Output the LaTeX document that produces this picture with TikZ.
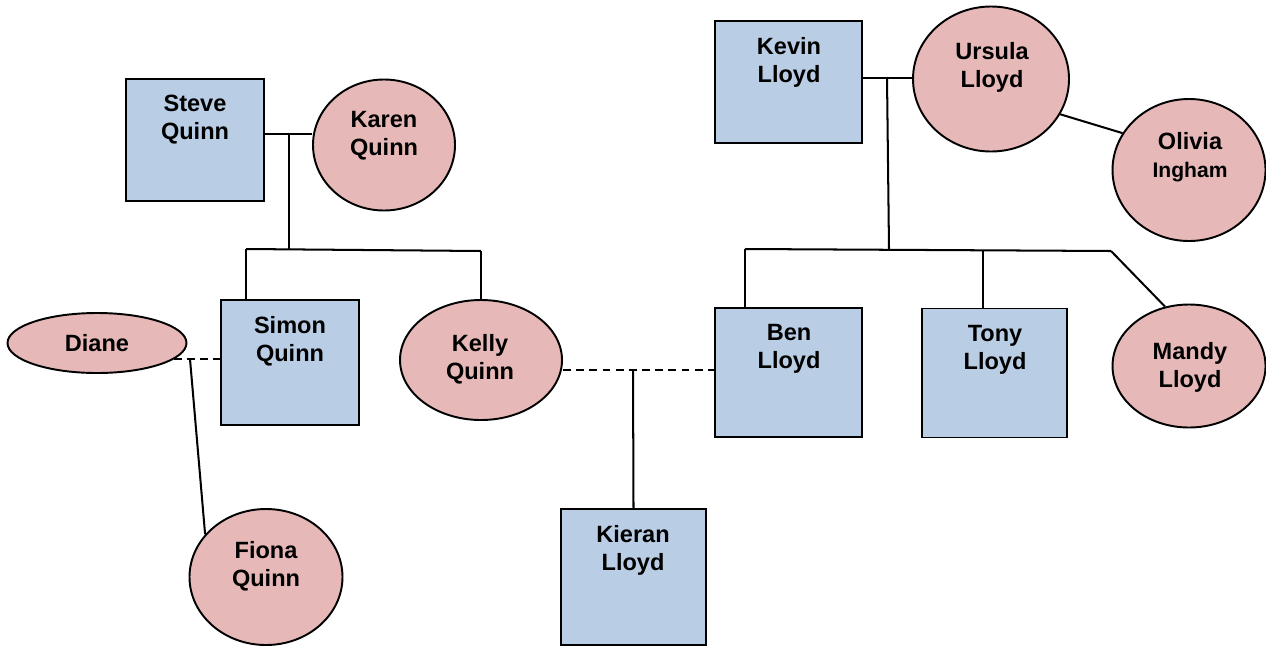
\documentclass[tikz,border=0pt]{standalone}
\usepackage{fontspec}
\setmainfont{Liberation Sans}
\usetikzlibrary{shapes.geometric}
\definecolor{mblue}{HTML}{B9CDE5}
\definecolor{fpink}{HTML}{E6B9B8}
\begin{document}
\begin{tikzpicture}[x=0.02cm,y=-0.02cm,
  male/.style={draw, fill=mblue, line width=1.1pt, rectangle, inner sep=0pt},
  female/.style={draw, fill=fpink, line width=1.1pt, ellipse, inner sep=0pt},
  lbl/.style={font=\bfseries\fontsize{13.4}{16}\selectfont, align=center, inner sep=0pt},
  conn/.style={line width=1.15pt},
  spouse/.style={line width=1.15pt, dash pattern=on 4.5pt off 3pt}]
\useasboundingbox (0,0) rectangle (1266,646);
% shapes
\node[male, minimum width=138*0.02cm, minimum height=122*0.02cm] (steve) at (195,140) {};
\node[female, minimum width=142*0.02cm, minimum height=131*0.02cm] (karen) at (384,145) {};
\node[male, minimum width=147*0.02cm, minimum height=122*0.02cm] (kevin) at (788.5,82) {};
\node[female, minimum width=156*0.02cm, minimum height=145*0.02cm] (ursula) at (991,79) {};
\node[female, minimum width=153*0.02cm, minimum height=142*0.02cm] (olivia) at (1189,170) {};
\node[male, minimum width=138*0.02cm, minimum height=125*0.02cm] (simon) at (290,362.5) {};
\node[female, minimum width=179*0.02cm, minimum height=60*0.02cm] (diane) at (97,343) {};
\node[female, minimum width=162*0.02cm, minimum height=120*0.02cm] (kelly) at (481,360) {};
\node[male, minimum width=147*0.02cm, minimum height=129*0.02cm] (ben) at (788.5,372.5) {};
\node[male, minimum width=145*0.02cm, minimum height=129*0.02cm] (tony) at (994.5,373) {};
\node[female, minimum width=153*0.02cm, minimum height=123*0.02cm] (mandy) at (1189,366) {};
\node[female, minimum width=153*0.02cm, minimum height=136*0.02cm] (fiona) at (266,577) {};
\node[male, minimum width=145*0.02cm, minimum height=136*0.02cm] (kieran) at (633.5,577) {};
% labels
\node[lbl] (steveT) at (195,120) {Steve\\Quinn};
\node[lbl] (karenT) at (384,136) {Karen\\Quinn};
\node[lbl] (kevinT) at (789,62) {Kevin\\Lloyd};
\node[lbl] (ursulaT) at (992,67) {Ursula\\Lloyd};
\node[lbl] (oliviaT) at (1190,157) {Olivia\\{\fontsize{12}{14}\selectfont Ingham}};
\node[lbl] (simonT) at (290,341) {Simon\\Quinn};
\node[lbl] (dianeT) at (97,343) {Diane};
\node[lbl] (kellyT) at (480,359) {Kelly\\Quinn};
\node[lbl] (benT) at (789,349) {Ben\\Lloyd};
\node[lbl] (tonyT) at (995,350) {Tony\\Lloyd};
\node[lbl] (mandyT) at (1190,367) {Mandy\\Lloyd};
\node[lbl] (fionaT) at (266,566) {Fiona\\Quinn};
\node[lbl] (kieranT) at (633,550) {Kieran\\Lloyd};
% Quinn family
\coordinate (sk) at (289,134);
\coordinate (qa) at (246,249);
\coordinate (qb) at (481,251);
\draw[conn] (steve.east |- sk) -- (karen.west |- sk);
\draw[conn] (sk) -- (sk |- qa);
\draw[conn] (qa) -- (qb);
\draw[conn] (qa) -- (qa |- simon.north);
\draw[conn] (qb) -- (kelly.north);
% Lloyd family
\coordinate (ku) at (887,78);
\coordinate (kd) at (889,249);
\coordinate (la) at (745,249);
\coordinate (lt) at (983,251);
\coordinate (lb) at (1111,251);
\draw[conn] (kevin.east |- ku) -- (ursula.west |- ku);
\draw[conn] (ku) -- (kd);
\draw[conn] (la) -- (lb);
\draw[conn] (la) -- (la |- ben.north);
\draw[conn] (lt) -- (lt |- tony.north);
\draw[conn] (lb) -- (mandy.112);
\draw[conn] (ursula.-27) -- (olivia.151);
% Diane and Simon
\coordinate (ds) at (190,359);
\draw[spouse] (diane.-12) -- (simon.west |- diane.-12);
\draw[conn] (ds) -- (fiona.145.5);
% Kelly and Ben
\coordinate (kb) at (633,370);
\draw[spouse] (kelly.east |- kb) -- (ben.west |- kb);
\draw[conn] (kb) -- (kieran.north);
\end{tikzpicture}
\end{document}
